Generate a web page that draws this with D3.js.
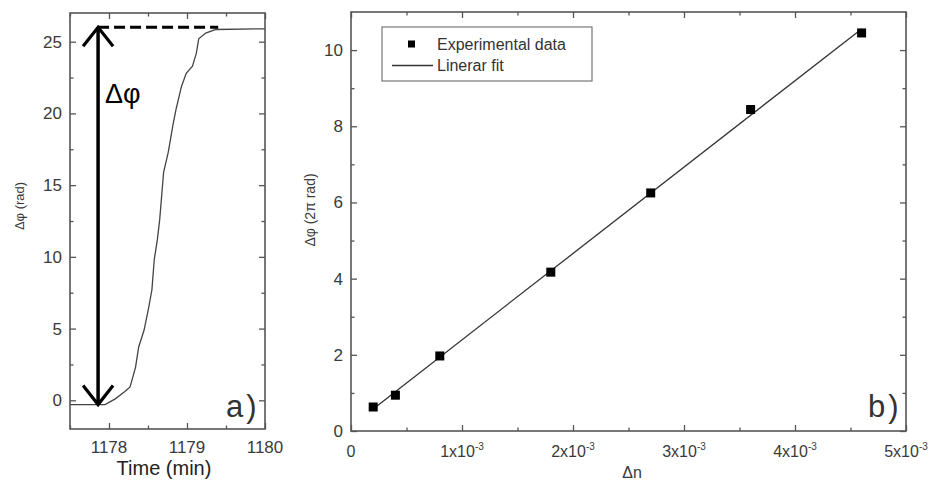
<!DOCTYPE html>
<html>
<head>
<meta charset="utf-8">
<script src="https://cdn.jsdelivr.net/npm/d3@7"></script>
<style>
  html, body { margin: 0; padding: 0; background: #fff; }
  svg { display: block; font-family: "Liberation Sans", Arial, sans-serif; }
</style>
</head>
<body>
<svg id="chart" width="931" height="481"></svg>
<script>
// ---------- Panel a) data ----------
const timeMin = [1177.50, 1177.95, 1178.08, 1178.20, 1178.27, 1178.34, 1178.38, 1178.45, 1178.51, 1178.55, 1178.58, 1178.62,
                 1178.65, 1178.70, 1178.76, 1178.82, 1178.86, 1178.93, 1178.99, 1179.07, 1179.12, 1179.15, 1179.24, 1179.37, 1180.00];
const phaseRad = [-0.3, -0.3, 0.1, 0.6, 0.93, 2.3, 3.7, 4.9, 6.5, 7.7, 9.8, 11.2,
                  12.6, 15.9, 17.3, 19.2, 20.3, 21.9, 22.8, 23.3, 24.2, 25.2, 25.6, 25.85, 25.9];
const timeTicks = [1178, 1179, 1180];
const timeMinorTicks = [1177.5, 1178.5, 1179.5];
const phaseTicksA = [0, 5, 10, 15, 20, 25];
const phaseMinorTicksA = [2.5, 7.5, 12.5, 17.5, 22.5];
const arrowTime = 1177.86;
const arrowTop = 26.0;
const arrowBottom = -0.3;
const dashEndTime = 1179.4;

// ---------- Panel b) data ----------
const deltaN = [0.0002, 0.0004, 0.0008, 0.0018, 0.0027, 0.0036, 0.0046];
const phase2pi = [0.63, 0.94, 1.97, 4.17, 6.25, 8.44, 10.45];
const dnTicks = [0, 0.001, 0.002, 0.003, 0.004, 0.005];
const dnTickMantissa = ["0", "1", "2", "3", "4", "5"];
const dnTickExponent = "-3";
const dnMinorTicks = [0.0005, 0.0015, 0.0025, 0.0035, 0.0045];
const phaseTicksB = [0, 2, 4, 6, 8, 10];
const phaseMinorTicksB = [1, 3, 5, 7, 9];
const legendLabels = ["Experimental data", "Linerar fit"];

const svg = d3.select("#chart");
const axisColor = "#555";
const textColor = "#3a3a3a";

function frameAxes(g, x, y, w, h, xt, xm, yt, ym) {
  const major = 6, minor = 3.5;
  const mk = (axis) => axis.tickFormat("").tickSizeOuter(0);
  g.append("g").attr("transform", `translate(0,${h})`).call(mk(d3.axisBottom(x).tickValues(xt).tickSizeInner(-major)));
  g.append("g").attr("transform", `translate(0,${h})`).call(mk(d3.axisBottom(x).tickValues(xm).tickSizeInner(-minor)));
  g.append("g").call(mk(d3.axisTop(x).tickValues(xt).tickSizeInner(-major)));
  g.append("g").call(mk(d3.axisTop(x).tickValues(xm).tickSizeInner(-minor)));
  g.append("g").call(mk(d3.axisLeft(y).tickValues(yt).tickSizeInner(-major)));
  g.append("g").call(mk(d3.axisLeft(y).tickValues(ym).tickSizeInner(-minor)));
  g.append("g").attr("transform", `translate(${w},0)`).call(mk(d3.axisRight(y).tickValues(yt).tickSizeInner(-major)));
  g.append("g").attr("transform", `translate(${w},0)`).call(mk(d3.axisRight(y).tickValues(ym).tickSizeInner(-minor)));
  g.selectAll(".domain").remove();
  g.selectAll(".tick line").attr("stroke", axisColor).attr("stroke-width", 1.3);
  g.append("rect").attr("x", 0).attr("y", 0).attr("width", w).attr("height", h)
    .attr("fill", "none").attr("stroke", axisColor).attr("stroke-width", 1.6);
}

// ================= Panel a =================
{
  const L = 70, T = 13, W = 195, H = 416;
  const g = svg.append("g").attr("transform", `translate(${L},${T})`);
  const x = d3.scaleLinear().domain([1177.5, 1180]).range([0, W]);
  const y = d3.scaleLinear().domain([-2, 27]).range([H, 0]);

  g.append("path")
    .datum(timeMin.map((t, i) => [t, phaseRad[i]]))
    .attr("fill", "none").attr("stroke", "#444").attr("stroke-width", 1.3)
    .attr("d", d3.line().x(d => x(d[0])).y(d => y(d[1])));

  frameAxes(g, x, y, W, H, timeTicks, timeMinorTicks, phaseTicksA, phaseMinorTicksA);

  g.selectAll(".xl").data(timeTicks).join("text")
    .attr("x", d => x(d)).attr("y", H + 24).attr("text-anchor", "middle")
    .attr("font-size", 17).attr("fill", textColor).text(d => d);
  g.selectAll(".yl").data(phaseTicksA).join("text")
    .attr("x", -8).attr("y", d => y(d)).attr("dy", "0.35em").attr("text-anchor", "end")
    .attr("font-size", 17).attr("fill", textColor).text(d => d);

  g.append("line")
    .attr("x1", x(arrowTime)).attr("x2", x(dashEndTime))
    .attr("y1", y(arrowTop)).attr("y2", y(arrowTop))
    .attr("stroke", "#000").attr("stroke-width", 3).attr("stroke-dasharray", "11,5");

  const ax = x(arrowTime), yt = y(arrowTop), yb = y(arrowBottom);
  g.append("line").attr("x1", ax).attr("x2", ax).attr("y1", yt).attr("y2", yb)
    .attr("stroke", "#000").attr("stroke-width", 3.5);
  g.append("path")
    .attr("d", `M${ax - 15},${yt + 19} L${ax},${yt} L${ax + 15},${yt + 19}`)
    .attr("fill", "none").attr("stroke", "#000").attr("stroke-width", 3.2);
  g.append("path")
    .attr("d", `M${ax - 15},${yb - 19} L${ax},${yb} L${ax + 15},${yb - 19}`)
    .attr("fill", "none").attr("stroke", "#000").attr("stroke-width", 3.2);

  svg.append("text").attr("x", 105).attr("y", 103).attr("font-size", 27)
    .attr("fill", "#000").text("Δφ");

  svg.append("text").attr("x", 226).attr("y", 417).attr("font-size", 31)
    .attr("fill", "#333").attr("letter-spacing", 3).text("a)");

  svg.append("text").attr("x", 164).attr("y", 475).attr("text-anchor", "middle")
    .attr("font-size", 20).attr("fill", "#222").text("Time (min)");
  svg.append("text").attr("transform", "translate(24,206) rotate(-90)")
    .attr("text-anchor", "middle").attr("font-size", 13).attr("fill", textColor).text("Δφ (rad)");
}

// ================= Panel b =================
{
  const L = 351, T = 12, W = 555, H = 419;
  const g = svg.append("g").attr("transform", `translate(${L},${T})`);
  const x = d3.scaleLinear().domain([0, 0.005]).range([0, W]);
  const y = d3.scaleLinear().domain([0, 11]).range([H, 0]);

  const mx = d3.mean(deltaN), my = d3.mean(phase2pi);
  const slope = d3.sum(deltaN, (d, i) => (d - mx) * (phase2pi[i] - my)) / d3.sum(deltaN, d => (d - mx) ** 2);
  const icpt = my - slope * mx;
  const xf = d3.extent(deltaN);
  g.append("line")
    .attr("x1", x(xf[0])).attr("y1", y(icpt + slope * xf[0]))
    .attr("x2", x(xf[1])).attr("y2", y(icpt + slope * xf[1]))
    .attr("stroke", "#333").attr("stroke-width", 1.3);

  g.selectAll(".pt").data(deltaN).join("rect")
    .attr("x", d => x(d) - 4.5).attr("y", (d, i) => y(phase2pi[i]) - 4.5)
    .attr("width", 9).attr("height", 9).attr("fill", "#000");

  frameAxes(g, x, y, W, H, dnTicks, dnMinorTicks, phaseTicksB, phaseMinorTicksB);

  const xl = g.selectAll(".xl").data(dnTicks).join("text")
    .attr("x", d => x(d)).attr("y", H + 26).attr("text-anchor", "middle")
    .attr("font-size", 16).attr("fill", textColor);
  xl.each(function(d, i) {
    const t = d3.select(this);
    if (d === 0) { t.text(dnTickMantissa[i]); return; }
    t.append("tspan").text(dnTickMantissa[i] + "x10");
    t.append("tspan").attr("dy", -7).attr("font-size", 10).text(dnTickExponent);
  });
  g.selectAll(".yl").data(phaseTicksB).join("text")
    .attr("x", -8).attr("y", d => y(d)).attr("dy", "0.35em").attr("text-anchor", "end")
    .attr("font-size", 17).attr("fill", textColor).text(d => d);

  const lg = svg.append("g");
  lg.append("rect").attr("x", 382).attr("y", 27).attr("width", 210).attr("height", 54)
    .attr("fill", "#fff").attr("stroke", "#777").attr("stroke-width", 1.2);
  lg.append("rect").attr("x", 408).attr("y", 40.5).attr("width", 7).attr("height", 7).attr("fill", "#000");
  lg.append("line").attr("x1", 392).attr("x2", 433).attr("y1", 65.5).attr("y2", 65.5)
    .attr("stroke", "#333").attr("stroke-width", 1.3);
  lg.selectAll(".lt").data(legendLabels).join("text")
    .attr("x", 437).attr("y", (d, i) => 44 + i * 21.5).attr("dy", "0.35em")
    .attr("font-size", 16).attr("fill", "#333").text(d => d);

  svg.append("text").attr("x", 868).attr("y", 417).attr("font-size", 31)
    .attr("fill", "#333").attr("letter-spacing", 3).text("b)");

  svg.append("text").attr("x", 632).attr("y", 478).attr("text-anchor", "middle")
    .attr("font-size", 16).attr("fill", textColor).text("Δn");
  svg.append("text").attr("transform", "translate(315,210) rotate(-90)")
    .attr("text-anchor", "middle").attr("font-size", 14).attr("fill", textColor).text("Δφ (2π rad)");
}
</script>
</body>
</html>
